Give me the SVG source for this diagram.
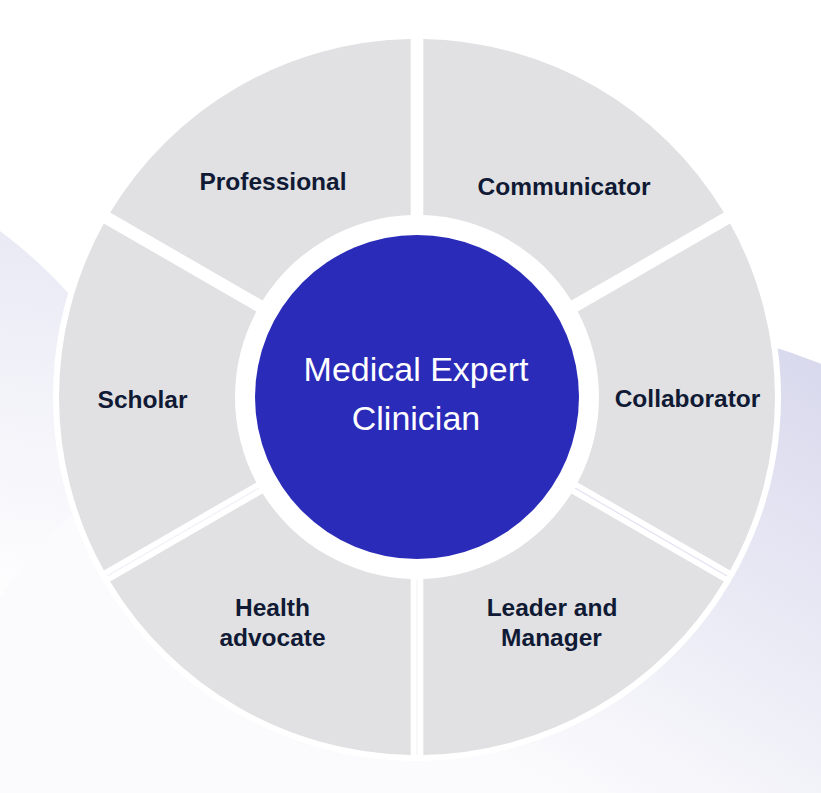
<svg xmlns="http://www.w3.org/2000/svg" width="821" height="793" viewBox="0 0 821 793">
  <defs>
    <linearGradient id="bgLeft" gradientUnits="userSpaceOnUse" x1="60" y1="230" x2="0" y2="620">
      <stop offset="0" stop-color="#e9e9f5"/>
      <stop offset="1" stop-color="#ffffff"/>
    </linearGradient>
    <linearGradient id="bgRight" gradientUnits="userSpaceOnUse" x1="821" y1="345" x2="560" y2="793">
      <stop offset="0" stop-color="#d8d8ed"/>
      <stop offset="1" stop-color="#fbfbfd"/>
    </linearGradient>
  </defs>
  <style>
    .seg { fill: #e1e1e3; }
    .lbl { font-family: "Liberation Sans", Arial, sans-serif; font-weight: bold; font-size: 24.5px; fill: #101a35; text-anchor: middle; }
    .ctr { font-family: "Liberation Sans", Arial, sans-serif; font-size: 34px; fill: #ffffff; text-anchor: middle; }
    .seam { stroke: #e2e2f2; stroke-width: 1.2; fill: none; }
  </style>

  <rect x="0" y="0" width="821" height="793" fill="#ffffff"/>
  <circle cx="-300" cy="631" r="500" fill="url(#bgLeft)"/>
  <circle cx="562" cy="1014" r="700" fill="url(#bgRight)"/>

  <circle cx="417" cy="397" r="364" fill="#ffffff"/>

  <g id="communicator">
    <path class="seg" d="M 723.87 212.62 A 358 358 0 0 0 423.30 39.06 L 423.30 215.11 A 182 182 0 0 1 571.37 300.60 Z"/>
    <text class="lbl" x="564" y="195">Communicator</text>
  </g>
  <g id="professional">
    <path class="seg" d="M 410.70 39.06 A 358 358 0 0 0 110.13 212.62 L 262.63 300.60 A 182 182 0 0 1 410.70 215.11 Z"/>
    <text class="lbl" x="273" y="190">Professional</text>
  </g>
  <g id="scholar">
    <path class="seg" d="M 103.87 223.47 A 358 358 0 0 0 103.87 570.53 L 256.33 482.48 A 182 182 0 0 1 256.33 311.52 Z"/>
    <text class="lbl" x="142.5" y="408">Scholar</text>
  </g>
  <g id="health-advocate">
    <path class="seg" d="M 110.13 581.38 A 358 358 0 0 0 410.70 754.94 L 410.70 578.89 A 182 182 0 0 1 262.63 493.40 Z"/>
    <text class="lbl" x="272.5" y="616">Health</text>
    <text class="lbl" x="272.5" y="646">advocate</text>
  </g>
  <g id="leader-and-manager">
    <path class="seg" d="M 423.30 754.94 A 358 358 0 0 0 723.87 581.38 L 571.37 493.40 A 182 182 0 0 1 423.30 578.89 Z"/>
    <text class="lbl" x="552" y="616">Leader and</text>
    <text class="lbl" x="551.5" y="646">Manager</text>
  </g>
  <g id="collaborator">
    <path class="seg" d="M 730.13 570.53 A 358 358 0 0 0 730.13 223.47 L 577.67 311.52 A 182 182 0 0 1 577.67 482.48 Z"/>
    <text class="lbl" x="687.5" y="407">Collaborator</text>
  </g>

  <g id="seams">
    <line class="seam" x1="575" y1="488" x2="727" y2="576"/>
    <line class="seam" x1="259" y1="488" x2="107" y2="576" opacity="0.5"/>
    <line class="seam" x1="417" y1="580" x2="417" y2="755" opacity="0.35"/>
  </g>

  <g id="medical-expert-clinician">
    <circle cx="417" cy="397" r="162" fill="#2a2bb8"/>
    <text class="ctr" x="416" y="381">Medical Expert</text>
    <text class="ctr" x="416" y="430">Clinician</text>
  </g>

  <g id="connectors"/>
</svg>
